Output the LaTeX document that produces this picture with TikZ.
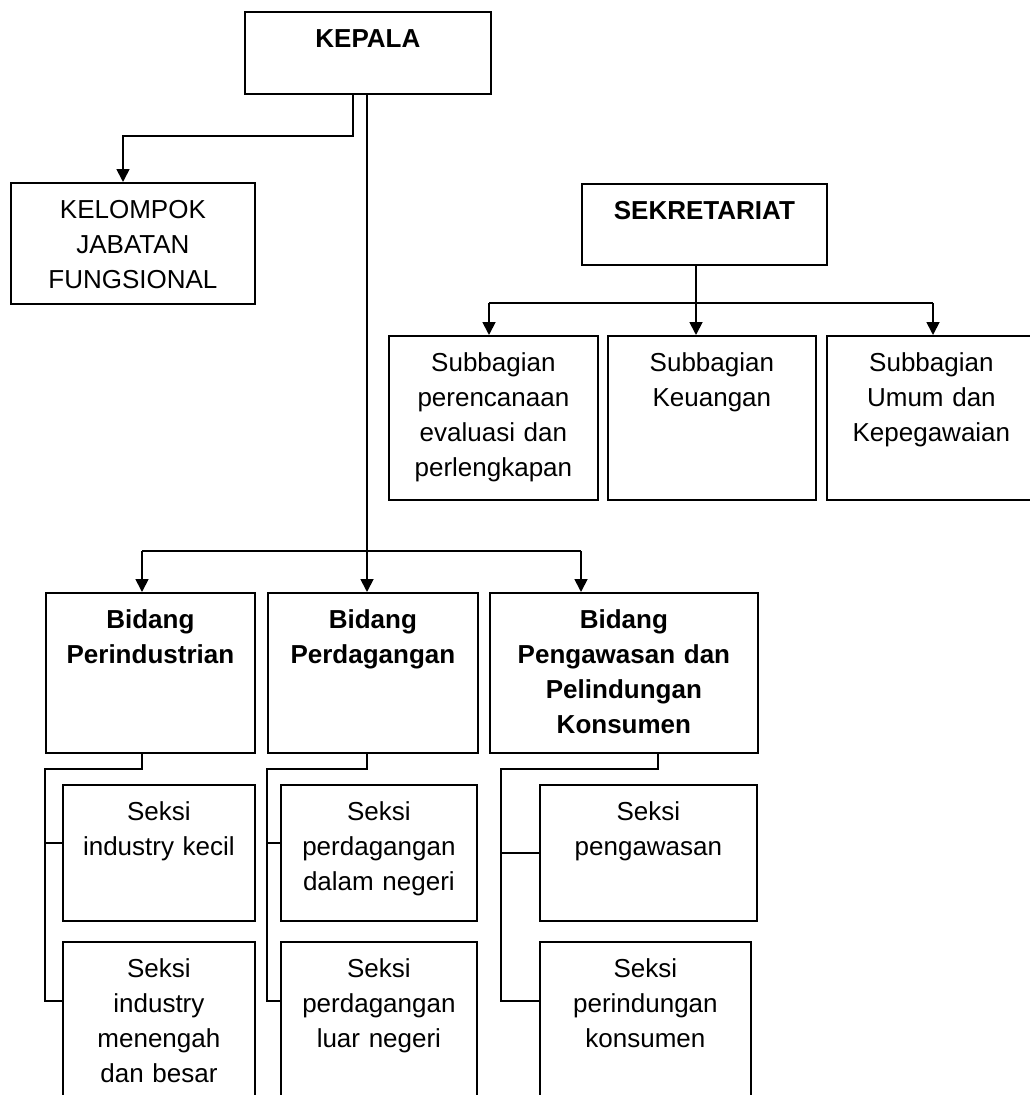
\documentclass[tikz,border=0pt]{standalone}
\usepackage{fontspec}
\setmainfont{Liberation Sans}
\usepackage{tikz}
\usetikzlibrary{arrows.meta}

\tikzset{
  unit/.style={draw, line width=1.8pt, inner sep=0pt, anchor=north west,
    align=center, text height=36pt, font=\fontsize{26}{35}\selectfont},
  head/.style={unit, font=\fontsize{26}{35}\selectfont\bfseries},
  conn/.style={line width=1.8pt},
  arr/.style={conn, -{Triangle[length=13pt,width=13pt]}}
}

\begin{document}
\begin{tikzpicture}[x=1pt, y=-1pt]
        \useasboundingbox (0,0) rectangle (1030,1095);
        % boxes
        \node[head, text width=246pt, text depth=46pt] (kepala) at (244,11) {KEPALA};
        \node[unit, text width=244pt, text depth=85pt] (kelompok) at (10,182) {KELOMPOK\\JABATAN\\FUNGSIONAL};
        \node[head, text width=245pt, text depth=45pt] (sekretariat) at (581,183) {SEKRETARIAT};
        \node[unit, text width=209pt, text depth=128pt] (sub1) at (388,335) {Subbagian\\perencanaan\\evaluasi dan\\perlengkapan};
        \node[unit, text width=208pt, text depth=128pt] (sub2) at (607,335) {Subbagian\\Keuangan};
        \node[unit, text width=209pt, text depth=128pt] (sub3) at (826,335) {Subbagian\\Umum dan\\Kepegawaian};
        \node[head, text width=209pt, text depth=124pt] (bid1) at (45,592) {Bidang\\Perindustrian};
        \node[head, text width=210pt, text depth=124pt] (bid2) at (267,592) {Bidang\\Perdagangan};
        \node[head, text width=268pt, text depth=124pt] (bid3) at (489,592) {Bidang\\Pengawasan dan\\Pelindungan\\Konsumen};
        \node[unit, text width=192pt, text depth=100pt] (sek1a) at (62,784) {Seksi\\industry kecil};
        \node[unit, text width=192pt, text depth=190pt] (sek1b) at (62,941) {Seksi\\industry\\menengah\\dan besar};
        \node[unit, text width=196pt, text depth=100pt] (sek2a) at (280,784) {Seksi\\perdagangan\\dalam negeri};
        \node[unit, text width=196pt, text depth=190pt] (sek2b) at (280,941) {Seksi\\perdagangan\\luar negeri};
        \node[unit, text width=217pt, text depth=100pt] (sek3a) at (539,784) {Seksi\\pengawasan};
        \node[unit, text width=211pt, text depth=190pt] (sek3b) at (539,941) {Seksi\\perindungan\\konsumen};

        % kepala to kelompok
        \coordinate (kl) at (353,136);
        \coordinate (kr) at (123,136);
        \draw[arr] (kl |- kepala.south) -- (kl) -- (kr) -- (kr |- kelompok.north);

        % kepala to bidang
        \coordinate (bl) at (142,551);
        \coordinate (bm) at (367,551);
        \coordinate (br) at (581,551);
        \draw[conn] (bm |- kepala.south) -- (bm);
        \draw[conn] (bl) -- (br);
        \draw[arr] (bl) -- (bl |- bid1.north);
        \draw[arr] (bm) -- (bm |- bid2.north);
        \draw[arr] (br) -- (br |- bid3.north);

        % sekretariat to subbagian
        \coordinate (sl) at (489,303);
        \coordinate (sm) at (696,303);
        \coordinate (sr) at (933,303);
        \draw[conn] (sm |- sekretariat.south) -- (sm);
        \draw[conn] (sl) -- (sr);
        \draw[arr] (sl) -- (sl |- sub1.north);
        \draw[arr] (sm) -- (sm |- sub2.north);
        \draw[arr] (sr) -- (sr |- sub3.north);

        % bidang to seksi
        \coordinate (p1) at (142,769);
        \coordinate (p2) at (45,769);
        \coordinate (p3) at (45,843);
        \coordinate (p4) at (45,1001);
        \draw[conn] (p1 |- bid1.south) -- (p1) -- (p2) -- (p4) -- (p4 -| sek1b.west);
        \draw[conn] (p3) -- (p3 -| sek1a.west);

        \coordinate (q1) at (367,769);
        \coordinate (q2) at (267,769);
        \coordinate (q3) at (267,843);
        \coordinate (q4) at (267,1001);
        \draw[conn] (q1 |- bid2.south) -- (q1) -- (q2) -- (q4) -- (q4 -| sek2b.west);
        \draw[conn] (q3) -- (q3 -| sek2a.west);

        \coordinate (r1) at (658,769);
        \coordinate (r2) at (501,769);
        \coordinate (r3) at (501,853);
        \coordinate (r4) at (501,1001);
        \draw[conn] (r1 |- bid3.south) -- (r1) -- (r2) -- (r4) -- (r4 -| sek3b.west);
        \draw[conn] (r3) -- (r3 -| sek3a.west);
      \end{tikzpicture}
\end{document}
